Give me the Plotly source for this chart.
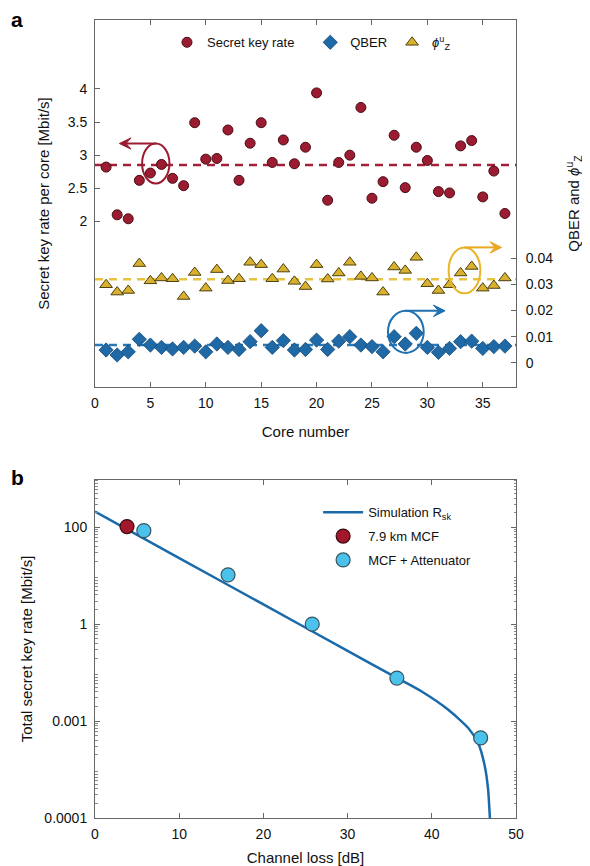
import plotly.graph_objects as go

# ---------------- Panel a data ----------------
cores = list(range(1, 38))
skr = [2.82, 2.10, 2.04, 2.62, 2.73, 2.86, 2.65, 2.54, 3.49, 2.94, 2.95, 3.38, 2.62,
       3.18, 3.49, 2.89, 3.23, 2.87, 3.12, 3.94, 2.32, 2.89, 3.00, 3.72, 2.35, 2.60,
       3.30, 2.51, 3.12, 2.92, 2.45, 2.43, 3.14, 3.22, 2.37, 2.76, 2.12]
qber = [0.0049, 0.0030, 0.0042, 0.0090, 0.0068, 0.0059, 0.0053, 0.0059, 0.0064, 0.0042,
        0.0072, 0.0059, 0.0051, 0.0081, 0.0123, 0.0059, 0.0085, 0.0049, 0.0051, 0.0087,
        0.0051, 0.0083, 0.0100, 0.0068, 0.0062, 0.0042, 0.0100, 0.0072, 0.0113, 0.0059,
        0.0040, 0.0055, 0.0081, 0.0083, 0.0055, 0.0062, 0.0064]
phi = [0.0299, 0.0271, 0.0277, 0.0380, 0.0314, 0.0325, 0.0322, 0.0254, 0.0346, 0.0286,
       0.0357, 0.0315, 0.0322, 0.0385, 0.0376, 0.0322, 0.0359, 0.0312, 0.0292, 0.0376,
       0.0321, 0.0344, 0.0385, 0.0331, 0.0325, 0.0271, 0.0367, 0.0354, 0.0404, 0.0303,
       0.0277, 0.0299, 0.0344, 0.0369, 0.0286, 0.0296, 0.0325]
skr_mean = 2.85
qber_mean = 0.0068
phi_mean = 0.032
core_span = [0, 38]
a_xticks = [0, 5, 10, 15, 20, 25, 30, 35]
a_yticks = [2, 2.5, 3, 3.5, 4]
a_y2ticks = [0, 0.01, 0.02, 0.03, 0.04]
a_y2ticktext = ["0", "0.01", "0.02", "0.03", "0.04"]

# ---------------- Panel b data ----------------
sim_loss = [0, 10, 20, 30, 35.85, 38.8, 41.96, 44.33, 45.5, 46.3, 46.69, 46.89, 47.0]
sim_rate = [209.9, 23.1, 2.55, 0.2805, 0.0776, 0.0407, 0.0171, 0.00718, 0.00352,
            0.00116, 0.000384, 0.000108, 0.00005]
mcf_loss = [3.8]
mcf_rate = [103]
att_loss = [5.8, 15.8, 25.8, 35.85, 45.8]
att_rate = [85, 10.4, 1.0, 0.077, 0.0045]
b_xticks = [0, 10, 20, 30, 40, 50]
b_yticks = [100, 1, 0.01, 0.0001]
b_yticktext = ["100", "1", "0.001", "0.0001"]

RED = "#9b1c31"
BLUE = "#1f6aa6"
GOLD = "#d9b12f"
FONT = "Liberation Sans, Arial, sans-serif"
NB = "\u00a0"

fig = go.Figure()

# dashed mean lines
fig.add_trace(go.Scatter(x=core_span, y=[skr_mean] * 2, mode="lines", xaxis="x", yaxis="y",
                         line=dict(color="#a3203a", width=2.5, dash="8px,6px"), showlegend=False))
fig.add_trace(go.Scatter(x=core_span, y=[phi_mean] * 2, mode="lines", xaxis="x", yaxis="y2",
                         line=dict(color="#e6c440", width=2.5, dash="8px,6px"), showlegend=False))
fig.add_trace(go.Scatter(x=core_span, y=[qber_mean] * 2, mode="lines", xaxis="x", yaxis="y2",
                         line=dict(color="#2a78b8", width=2.5, dash="8px,6px"), showlegend=False))

fig.add_trace(go.Scatter(x=cores, y=skr, mode="markers", name="Secret key rate" + NB * 3,
                         xaxis="x", yaxis="y",
                         marker=dict(symbol="circle", size=10, color=RED,
                                     line=dict(color="#4a0c16", width=1)), legend="legend"))
fig.add_trace(go.Scatter(x=cores, y=qber, mode="markers", name="QBER", xaxis="x", yaxis="y2",
                         marker=dict(symbol="diamond", size=11, color=BLUE,
                                     line=dict(color="#154a78", width=0.8)), legend="legend"))
fig.add_trace(go.Scatter(x=cores, y=phi, mode="markers", name="<i>ϕ</i><sup>u</sup><sub>Z</sub>",
                         xaxis="x", yaxis="y2",
                         marker=dict(symbol="triangle-up", size=11, color=GOLD,
                                     line=dict(color="#4d4010", width=1)), legend="legend"))

# panel b
fig.add_trace(go.Scatter(x=sim_loss, y=sim_rate, mode="lines", name="Simulation R<sub>sk</sub>",
                         xaxis="x2", yaxis="y3", legendgroup="g1",
                         line=dict(color="#1a6aaa", width=2.5, shape="spline", smoothing=0.6),
                         legend="legend2"))
fig.add_trace(go.Scatter(x=mcf_loss, y=mcf_rate, mode="markers", name="7.9 km MCF",
                         xaxis="x2", yaxis="y3", legendgroup="g2",
                         marker=dict(size=14, color="#a3172d", line=dict(color="#3c0a10", width=1.2)),
                         legend="legend2"))
fig.add_trace(go.Scatter(x=att_loss, y=att_rate, mode="markers", name="MCF + Attenuator",
                         xaxis="x2", yaxis="y3", legendgroup="g3",
                         marker=dict(size=14, color="#4bc2ec", line=dict(color="#355563", width=1.2)),
                         legend="legend2"))

axis_common = dict(showline=True, linecolor="#666", linewidth=1, ticks="inside", ticklen=5,
                   tickcolor="#666", showgrid=False, zeroline=False, automargin=False,
                   tickfont=dict(size=14, color="#111"))

minor_vals = []
for e in range(-4, 3):
    for m in range(2, 10):
        minor_vals.append(m * 10 ** e)

# page body has an 8px margin: figure is sized/margined so the plot lands where the reference has it
fig.update_layout(
    width=582, height=858,
    margin=dict(l=87, r=74, t=12, b=48, autoexpand=False),
    paper_bgcolor="white", plot_bgcolor="white",
    font=dict(family=FONT, size=13, color="#111"),
    xaxis=dict(domain=[0, 1], anchor="y", range=[0, 38], tickvals=a_xticks, mirror="ticks",
               ticklabelstandoff=3,
               title=dict(text="Core number", font=dict(size=15), standoff=16), **axis_common),
    yaxis=dict(domain=[0.540, 1], anchor="x", range=[-0.5, 5.04], tickvals=a_yticks,
               ticktext=["2", "2.5", "3", "3.5", "4"], ticklabelstandoff=4,
               title=dict(text="Secret key rate per core [Mbit/s]", font=dict(size=15), standoff=14),
               **axis_common),
    yaxis2=dict(overlaying="y", side="right", anchor="x", range=[-0.0093, 0.1313],
                tickvals=a_y2ticks, ticktext=a_y2ticktext, ticklabelstandoff=6,
                title=dict(text="QBER and <i>ϕ</i><sup>u</sup><sub>Z</sub>", font=dict(size=15),
                           standoff=16),
                **axis_common),
    xaxis2=dict(domain=[0, 1], anchor="y3", range=[0, 50], tickvals=b_xticks, mirror="ticks",
                ticklabelstandoff=3,
                title=dict(text="Channel loss [dB]", font=dict(size=15), standoff=11), **axis_common),
    yaxis3=dict(domain=[0, 0.4236], anchor="x2", type="log", range=[-4, 2.975],
                tickvals=b_yticks, ticktext=b_yticktext, mirror="ticks", ticklabelstandoff=4,
                minor=dict(tickvals=minor_vals, ticks="inside", ticklen=2.5, tickcolor="#888"),
                title=dict(text="Total secret key rate [Mbit/s]", font=dict(size=15), standoff=8),
                **axis_common),
    legend=dict(orientation="h", x=0.171, xanchor="left", y=0.972, yanchor="middle",
                bgcolor="rgba(0,0,0,0)", font=dict(size=13), itemwidth=30, traceorder="normal"),
    legend2=dict(x=0.53, xanchor="left", y=0.402, yanchor="top", bgcolor="rgba(0,0,0,0)",
                 font=dict(size=13), itemwidth=40, traceorder="grouped", tracegroupgap=4),
)

# ellipses
fig.add_shape(type="circle", xref="x", yref="y", x0=4.25, x1=6.72, y0=2.573, y1=3.176,
              line=dict(color="#9b1c31", width=2))
fig.add_shape(type="circle", xref="x", yref="y2", x0=31.92, x1=34.78, y0=0.0266, y1=0.0442,
              line=dict(color="#e9b52a", width=2))
fig.add_shape(type="circle", xref="x", yref="y2", x0=26.44, x1=29.67, y0=0.0038, y1=0.0199,
              line=dict(color="#1f70b0", width=2))


def arrow(x_tail, x_tip, y, yref, dy, color):
    """Horizontal arrow drawn as shapes: shaft + notched head (dy = half head height in data units)."""
    sgn = 1 if x_tip > x_tail else -1
    head = 1.05 * sgn
    notch = 0.6 * sgn
    fig.add_shape(type="line", xref="x", yref=yref, x0=x_tail, x1=x_tip - notch, y0=y, y1=y,
                  line=dict(color=color, width=2))
    path = (f"M {x_tip},{y} L {x_tip - head},{y + dy} L {x_tip - notch},{y} "
            f"L {x_tip - head},{y - dy} Z")
    fig.add_shape(type="path", xref="x", yref=yref, path=path, fillcolor=color,
                  line=dict(color=color, width=1))


arrow(5.5, 2.2, 3.176, "y", 0.085, "#9b1c31")
arrow(33.35, 36.7, 0.0442, "y2", 0.0022, "#e9a822")
arrow(28.05, 31.6, 0.0199, "y2", 0.0022, "#1f70b0")

# panel labels
fig.add_annotation(text="<b>a</b>", xref="paper", yref="paper", x=-0.205, y=1.017,
                   xanchor="left", yanchor="top", showarrow=False, font=dict(size=21, color="#000"))
fig.add_annotation(text="<b>b</b>", xref="paper", yref="paper", x=-0.205, y=0.444,
                   xanchor="left", yanchor="top", showarrow=False, font=dict(size=21, color="#000"))

fig.write_html("out.html")
